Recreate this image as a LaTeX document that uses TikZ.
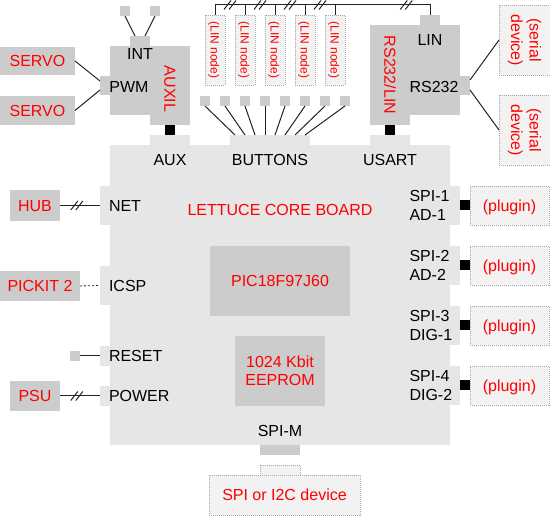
\documentclass[tikz,border=0pt]{standalone}
\usepackage{fontspec}
\setmainfont{Liberation Sans}
\usetikzlibrary{calc}
\definecolor{dk}{HTML}{CCCCCC}
\definecolor{lt}{HTML}{E6E6E6}
\definecolor{ex}{HTML}{F2F2F2}
\definecolor{dt}{HTML}{AAAAAA}
\definecolor{rd}{HTML}{FF0000}
\definecolor{ln}{HTML}{222222}
\tikzset{
 every node/.style={inner sep=0pt,outer sep=0pt},
 sz/.style 2 args={minimum width=#1pt,minimum height=#2pt},
 mdl/.style={fill=dk},
 brdc/.style={fill=lt},
 extb/.style={fill=ex,draw=dt,line width=0.8pt,dash pattern=on 1pt off 1pt},
 blk/.style={fill=black},
 txt/.style={font=\fontsize{16}{18.5}\selectfont, text height=11.5pt, text depth=0pt},
 mtxt/.style={font=\fontsize{16}{18.5}\selectfont},
 smalltxt/.style={font=\fontsize{12}{14}\selectfont, text height=8.6pt, text depth=0pt},
 rt/.style={text=rd},
 wire/.style={draw=ln,line width=1pt},
 dslash/.pic={\draw[wire] (-6,4.5) -- (1,-4.5) (-1,4.5) -- (6,-4.5);}
}
\begin{document}
\begin{tikzpicture}[x=1pt,y=-1pt]
\useasboundingbox (0,0) rectangle (550,516);
% ---------- main board ----------
\node[brdc,sz={340}{300}] (board) at (280,295) {};
\node[brdc,sz={40}{10}] (auxt) at (170,140) {};
\node[brdc,sz={80}{10}] (btnt) at (270,140) {};
\node[brdc,sz={40}{10}] (usartt) at (390,140) {};
\node[brdc,sz={10}{39}] (nett) at (105,205.5) {};
\node[brdc,sz={10}{39}] (icspt) at (105,285.5) {};
\node[brdc,sz={10}{20}] (resett) at (105,356) {};
\node[brdc,sz={10}{20}] (powert) at (105,396) {};
\node[brdc,sz={10}{39}] (spa) at (455,205.5) {};
\node[brdc,sz={10}{39}] (spb) at (455,265.5) {};
\node[brdc,sz={10}{39}] (spc) at (455,325.5) {};
\node[brdc,sz={10}{39}] (spd) at (455,385.5) {};
\node[mdl,sz={40}{10}] (spimt) at (280,450) {};
% board labels
\node[txt] (auxl) at (170,160) {AUX};
\node[txt] (btnl) at (270,160) {BUTTONS};
\node[txt] (usartl) at (390,160) {USART};
\node[txt,rt] (boardl) at (280,210) {LETTUCE CORE BOARD};
\node[txt,anchor=west] (netl) at (109,206) {NET};
\node[txt,anchor=west] (icspl) at (109,286) {ICSP};
\node[txt,anchor=west] (resetl) at (109,356) {RESET};
\node[txt,anchor=west] (powerl) at (109,396) {POWER};
\node[mtxt,align=left,anchor=west] (spal) at (409.5,205.5) {SPI-1\\AD-1};
\node[mtxt,align=left,anchor=west] (spbl) at (409.5,265.5) {SPI-2\\AD-2};
\node[mtxt,align=left,anchor=west] (spcl) at (409.5,325.5) {SPI-3\\DIG-1};
\node[mtxt,align=left,anchor=west] (spdl) at (409.5,385.5) {SPI-4\\DIG-2};
\node[txt] (spiml) at (280,431) {SPI-M};
\node[mdl,sz={140}{70}] (pic) at (280,281) {};
\node[txt,rt] (picl) at (280,281) {PIC18F97J60};
\node[mdl,sz={90}{70}] (eep) at (280,371) {};
\node[mtxt,rt,align=center] (eepl) at (280,371) {1024 Kbit\\EEPROM};
% black connectors
\node[blk,sz={10}{10}] (auxblk) at (170,130) {};
\node[blk,sz={10}{10}] (usblk) at (390,130) {};
\node[blk,sz={10}{10}] (bka) at (465,205.5) {};
\node[blk,sz={10}{10}] (bkb) at (465,265.5) {};
\node[blk,sz={10}{10}] (bkc) at (465,325.5) {};
\node[blk,sz={10}{10}] (bkd) at (465,385.5) {};
% plugins
\foreach \y/\n in {205.5/pa,265.5/pb,325.5/pc,385.5/pd}{
  \node[extb,sz={79}{39}] (\n) at (509.5,\y) {};
  \node[txt,rt] (\n l) at (509.5,\y) {(plugin)};
}
% SPI or I2C device
\node[extb,sz={151}{40}] (dev) at (284.5,495) {};
\node[extb,sz={40}{10}] (devt) at (280,470) {};
\node[txt,rt] (devl) at (284.5,495) {SPI or I2C device};
% ---------- left externals ----------
\node[mdl,sz={50}{31}] (hub) at (35,205.5) {};
\node[txt,rt] (hubl) at (35,205.5) {HUB};
\node[mdl,sz={80}{30}] (pickit) at (40,286) {};
\node[txt,rt] (pickitl) at (40,286) {PICKIT 2};
\node[mdl,sz={10}{10}] (rsq) at (75,356) {};
\node[mdl,sz={50}{30}] (psu) at (35,396) {};
\node[txt,rt] (psul) at (35,396) {PSU};
\draw[wire] (hub.east) -- (nett.west);
\pic at ($(hub.east)!0.42!(nett.west)$) {dslash};
\draw[wire,line width=0.8pt,dash pattern=on 2pt off 2pt] (pickit.east) -- (icspt.west);
\draw[wire] (rsq.east) -- (resett.west);
\draw[wire] (psu.east) -- (powert.west);
\pic at ($(psu.east)!0.42!(powert.west)$) {dslash};
% ---------- AUXIL module ----------
\node[mdl,sz={80}{69}] (auxil) at (150,80.5) {};
\node[mdl,sz={40}{10.5}] (auxilx) at (170,120) {};
\node[mdl,sz={20}{10}] (intt) at (140,41) {};
\node[mdl,sz={10}{19}] (pwmt) at (105,85.5) {};
\node[txt] (intl) at (140,54) {INT};
\node[txt] (pwml) at (129,87) {PWM};
\node[txt,rt,rotate=-90] (auxill) at (170,89) {AUXIL};
\node[mdl,sz={10}{10}] (sqa) at (125,11) {};
\node[mdl,sz={10}{10}] (sqb) at (155,11) {};
\draw[wire] (sqa.south) -- ([xshift=-5pt]intt.north);
\draw[wire] (sqb.south) -- ([xshift=5pt]intt.north);
\node[mdl,sz={75}{28}] (servoa) at (37.5,61) {};
\node[txt,rt] (servoal) at (37.5,61) {SERVO};
\node[mdl,sz={75}{29}] (servob) at (37.5,110.5) {};
\node[txt,rt] (servobl) at (37.5,110.5) {SERVO};
\draw[wire] (servoa.east) -- ([yshift=4.5pt]pwmt.west);
\draw[wire] (servob.east) -- ([yshift=-4.5pt]pwmt.west);
% ---------- RS232/LIN module ----------
\node[mdl,sz={90}{90}] (rsm) at (415,70) {};
\node[mdl,sz={40}{10.5}] (rsmx) at (390,120) {};
\node[mdl,sz={20}{10}] (lint) at (430,20) {};
\node[mdl,sz={10}{19}] (rst) at (465,85.5) {};
\node[txt] (linl) at (430,40) {LIN};
\node[txt] (rsl) at (434,87) {RS232};
\node[txt,rt,rotate=-90] (rsml) at (390,75) {RS232/LIN};
\node[extb,sz={51}{70}] (sera) at (524.5,40) {};
\node[extb,sz={51}{70}] (serb) at (524.5,130) {};
\node[mtxt,rt,align=center,rotate=-90] (seral) at (524.5,40) {(serial\\device)};
\node[mtxt,rt,align=center,rotate=-90] (serbl) at (524.5,130) {(serial\\device)};
\draw[wire] ([yshift=5.5pt]rst.east) -- (sera.west);
\draw[wire] ([yshift=-4.5pt]rst.east) -- (serb.west);
% ---------- LIN nodes and bus ----------
\foreach \i in {1,...,5}{
  \node[extb,sz={20}{70}] (lin\i) at (185+30*\i,50) {};
  \node[smalltxt,rt,rotate=-90] (lin\i l) at (185+30*\i,50) {(LIN node)};
  \coordinate (k\i) at (185+30*\i,5);
  \draw[wire] (lin\i.north) -- (k\i);
}
\coordinate (k6) at (lint.north |- 0,5);
\draw[wire] (k1) -- (k6) -- (lint.north);
\foreach \a/\b in {1/2,2/3,3/4,4/5}{\pic at ($(k\a)!0.5!(k\b)$) {dslash};}
\pic at ($(k5)!0.75!(k6)$) {dslash};
% ---------- buttons ----------
\foreach \i in {0,...,7}{
  \node[mdl,sz={10}{10}] (b\i) at (205+20*\i,101) {};
  \draw[wire] (b\i.south) -- ([xshift={-35+10*\i}]btnt.north);
}
\end{tikzpicture}
\end{document}
